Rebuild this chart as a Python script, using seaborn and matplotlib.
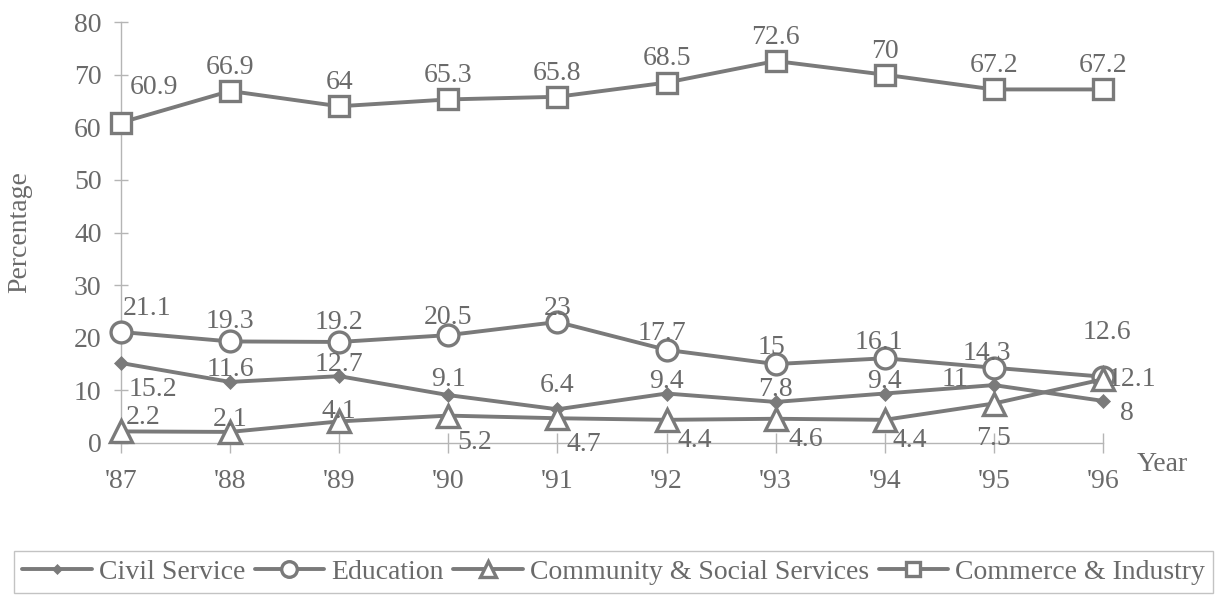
import matplotlib
matplotlib.use("Agg")
import matplotlib.pyplot as plt
import seaborn as sns
import pandas as pd

years = ["'87", "'88", "'89", "'90", "'91", "'92", "'93", "'94", "'95", "'96"]
civil_service = [15.2, 11.6, 12.7, 9.1, 6.4, 9.4, 7.8, 9.4, 11, 8]
education = [21.1, 19.3, 19.2, 20.5, 23, 17.7, 15, 16.1, 14.3, 12.6]
community = [2.2, 2.1, 4.1, 5.2, 4.7, 4.4, 4.6, 4.4, 7.5, 12.1]
commerce = [60.9, 66.9, 64, 65.3, 65.8, 68.5, 72.6, 70, 67.2, 67.2]
series_names = ["Civil Service", "Education", "Community & Social Services", "Commerce & Industry"]
y_ticks = [0, 10, 20, 30, 40, 50, 60, 70, 80]

sns.set_theme(style="white")
plt.rcParams["font.family"] = ["Liberation Serif", "DejaVu Serif"]

TXT = "#6a6a6a"
LINE = "#7a7a7a"
AX = "#b5b5b5"
FS = 20

fig = plt.figure(figsize=(12.27, 5.97), dpi=100)
ax = fig.add_axes([0.0986, 0.258, 0.8003, 0.705])

idx = list(range(len(years)))
rows = []
for name, vals in zip(series_names, [civil_service, education, community, commerce]):
    for i, v in zip(idx, vals):
        rows.append({"x": i, "value": v, "series": name})
df = pd.DataFrame(rows)

markers = {"Civil Service": "D", "Education": "o", "Community & Social Services": "^", "Commerce & Industry": "s"}
msize = {"Civil Service": 7, "Education": 15, "Community & Social Services": 16, "Commerce & Industry": 14}

for name in series_names:
    sub = df[df["series"] == name]
    sns.lineplot(data=sub, x="x", y="value", ax=ax, color=LINE, linewidth=2.8,
                 marker=markers[name], markersize=msize[name],
                 markerfacecolor=(LINE if name == "Civil Service" else "white"),
                 markeredgecolor=LINE, markeredgewidth=(0.5 if name == "Civil Service" else 2.4),
                 label=name, legend=False, clip_on=False, zorder=3)

# label offsets (points)
offs = {
    "Commerce & Industry": [(24, 25)] + [(0, 17)] * 9,
    "Education": [(19, 17), (0, 14), (0, 14), (0, 12.5), (0, 10), (-3, 12), (-3, 12), (-4, 11), (-5, 10), (3, 32)],
    "Civil Service": [(23, -19), (0, 9), (0, 8.5), (0, 11), (0, 17), (0, 9), (0, 9), (0, 9), (-28, 4), (17, -9)],
    "Community & Social Services": [(16, 10), (0, 9), (0, 7), (19, -19), (19, -19), (20, -15), (22, -15), (18, -15), (0, -25), (21, 0)],
}
for name, vals in zip(series_names, [civil_service, education, community, commerce]):
    for i, v in enumerate(vals):
        dx, dy = offs[name][i]
        ax.annotate(f"{v:g}", (i, v), xytext=(dx, dy), textcoords="offset points",
                    ha="center", va="center", fontsize=FS, color=TXT, zorder=4)

ax.set_xlim(0, 9)
ax.set_ylim(0, 80)
ax.set_xticks(idx)
ax.set_xticklabels(years)
ax.set_yticks(y_ticks)
ax.tick_params(axis="x", direction="inout", length=14, width=1, color=AX, labelsize=FS,
               labelcolor=TXT, pad=12, bottom=True)
ax.tick_params(axis="y", direction="inout", length=10, width=1, color=AX, labelsize=FS,
               labelcolor=TXT, pad=9, left=True)
for s in ["top", "right"]:
    ax.spines[s].set_visible(False)
for s in ["left", "bottom"]:
    ax.spines[s].set_color(AX)
    ax.spines[s].set_linewidth(1)
ax.set_xlabel("")
ax.set_ylabel("Percentage", fontsize=FS, color=TXT)
ax.yaxis.set_label_coords(-0.0906, 0.5)
ax.text(1.06, -0.052, "Year", transform=ax.transAxes, fontsize=FS, color=TXT, ha="center", va="center")

handles, labels = ax.get_legend_handles_labels()
leg = fig.legend(handles, labels, loc="center", bbox_to_anchor=(0.5, 0.042), ncol=4,
                 fontsize=FS, frameon=True, fancybox=False, edgecolor=AX, handlelength=2.5,
                 handletextpad=0.25, columnspacing=0.35, borderpad=0.3, markerscale=0.75)
for t in leg.get_texts():
    t.set_color(TXT)
leg.get_frame().set_linewidth(1)

fig.savefig("out.png", dpi=100)
